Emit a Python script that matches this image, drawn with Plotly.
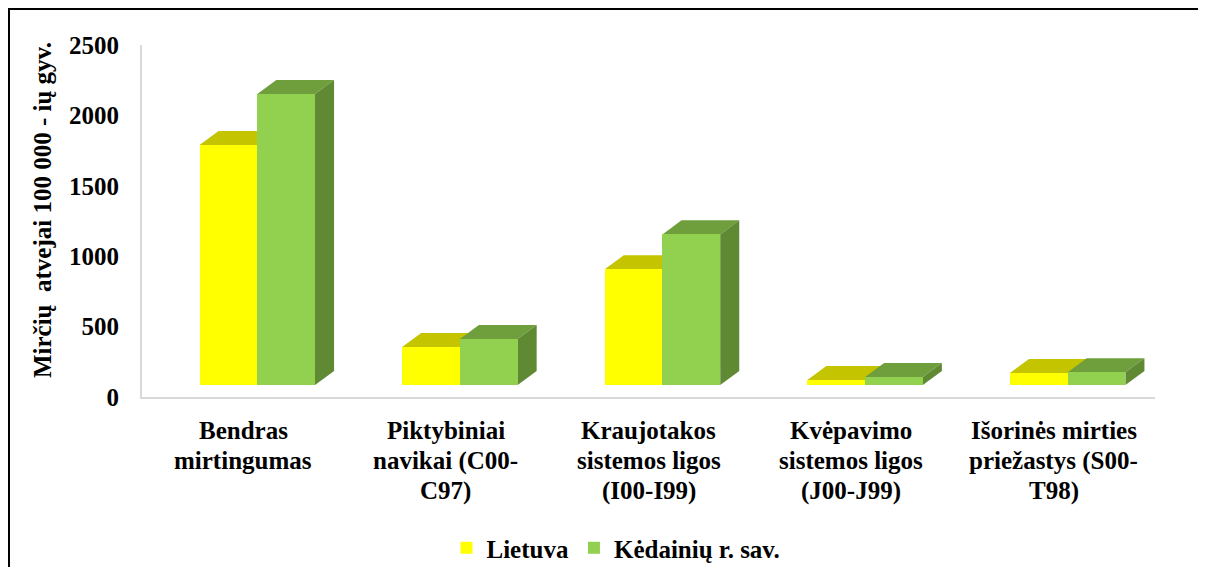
import plotly.graph_objects as go

categories = [
    ["Bendras", "mirtingumas"],
    ["Piktybiniai", "navikai (C00-", "C97)"],
    ["Kraujotakos", "sistemos ligos", "(I00-I99)"],
    ["Kvėpavimo", "sistemos ligos", "(J00-J99)"],
    ["Išorinės mirties", "priežastys (S00-", "T98)"],
]
lietuva = [1705, 270, 822, 36, 85]
kedainiai = [2067, 327, 1070, 57, 90]
y_ticks = [0, 500, 1000, 1500, 2000, 2500]

FONT = "Liberation Serif"
BAR_W = 0.285
START = -0.216      # left edge of the group, relative to the category
DX = 0.094          # depth offset in x units
DY = 100            # depth offset in value units
BASE = 85           # bars stand a bit back on the floor

series = [
    ("Lietuva", lietuva, "#FFFF00", "#C4C400", "#A8A800"),
    ("Kėdainių r. sav.", kedainiai, "#92D050", "#6F9E3C", "#5F8933"),
]

fig = go.Figure()
shapes = []
for k, (name, vals, front, top, side) in enumerate(series):
    xs = [i + START + BAR_W * (k + 0.5) for i in range(len(vals))]
    fig.add_trace(go.Bar(x=xs, y=vals, base=BASE, width=BAR_W, name=name,
                         marker=dict(color=front, line=dict(width=0))))

# top and side faces, drawn in category order so the green front hides the yellow side
for i in range(len(categories)):
    for k, (name, vals, front, top, side) in enumerate(series):
        x0 = i + START + BAR_W * k
        x1 = x0 + BAR_W
        h = BASE + vals[i]
        shapes.append(dict(type="path", xref="x", yref="y", layer="below", line=dict(width=0),
                           fillcolor=top,
                           path=f"M{x0},{h} L{x1},{h} L{x1 + DX},{h + DY} L{x0 + DX},{h + DY} Z"))
        shapes.append(dict(type="path", xref="x", yref="y", layer="below", line=dict(width=0),
                           fillcolor=side,
                           path=f"M{x1},{BASE} L{x1 + DX},{BASE + DY} L{x1 + DX},{h + DY} L{x1},{h} Z"))

# chart border (only the top and left edges show)
shapes.append(dict(type="rect", xref="paper", yref="paper", x0=-0.1313, y0=-0.6, x1=1.2, y1=1.1023,
                   line=dict(color="black", width=2), layer="above"))

annotations = []
for i, lines in enumerate(categories):
    for j, line in enumerate(lines):
        annotations.append(dict(x=i, xref="x", y=(397 - (430 + 30.5 * j)) / 352, yref="paper",
                                text=f"<b>{line}</b>", showarrow=False, xanchor="center",
                                yanchor="middle", font=dict(family=FONT, size=25, color="black")))
annotations.append(dict(x=-100 / 1013, xref="paper", y=0.531, yref="paper", textangle=-90,
                        text="<b>Mirčių\u00a0 atvejai 100\u00a0000 - ių gyv.</b>", showarrow=False,
                        xanchor="center", yanchor="middle",
                        font=dict(family=FONT, size=25, color="black")))

fig.update_layout(
    width=1206, height=567,
    margin=dict(l=134, r=59, t=37, b=178),
    paper_bgcolor="white", plot_bgcolor="white",
    barmode="overlay", bargap=0,
    shapes=shapes, annotations=annotations,
    showlegend=True,
    legend=dict(orientation="h", xref="container", x=608 / 1206, xanchor="center",
                yref="container", y=1 - 540 / 567, yanchor="middle", itemwidth=30,
                font=dict(family=FONT, size=25, color="black", weight="bold")),
    xaxis=dict(range=[-0.5, 4.5], showticklabels=False, ticks="", showgrid=False, zeroline=False,
               showline=True, linecolor="#D9D9D9", linewidth=2, fixedrange=True),
    yaxis=dict(range=[0, 2500], tickvals=y_ticks, showgrid=False, zeroline=False,
               showline=True, linecolor="#D9D9D9", linewidth=2,
               ticks="outside", ticklen=16, tickcolor="rgba(0,0,0,0)",
               tickfont=dict(family=FONT, size=25, color="black", weight="bold")),
)

fig.write_html("out.html")
